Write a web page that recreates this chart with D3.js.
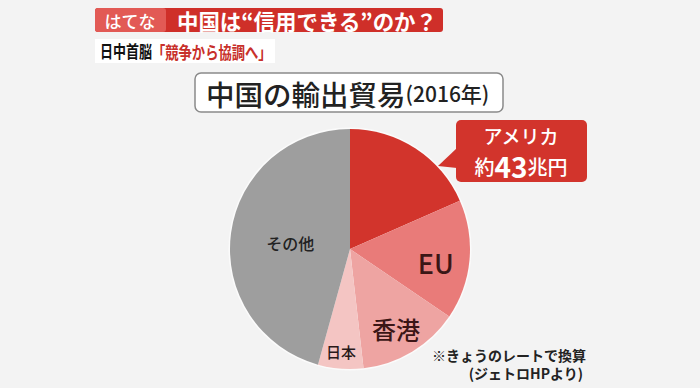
<!DOCTYPE html>
<html>
<head>
<meta charset="utf-8">
<script src="https://cdn.jsdelivr.net/npm/d3@7"></script>
<style>
  body { margin: 0; background: #f3f3f3; }
  svg { display: block; font-family: "Noto Sans CJK JP", "Noto Sans", sans-serif; }
</style>
</head>
<body>
<svg id="chart"></svg>
<script>
// 2016年 中国の輸出先シェア (%)
const regions = ["アメリカ", "EU", "香港", "日本", "その他"];
const shares = [18.4, 16.1, 13.7, 6.1, 45.7];
const sliceColors = ["#d2342c", "#e97b79", "#eea4a2", "#f4c5c3", "#9e9e9e"];
const usAmount = "43"; // 兆円

const width = 700, height = 388;
const svg = d3.select("#chart").attr("width", width).attr("height", height);

svg.append("rect").attr("width", width).attr("height", height).attr("fill", "#f3f3f3");

// Header bar
svg.append("rect").attr("x", 95).attr("y", 8).attr("width", 348).attr("height", 24)
    .attr("rx", 3).attr("fill", "#cf2f29");
svg.append("rect").attr("x", 95).attr("y", 8).attr("width", 71).attr("height", 24)
    .attr("rx", 3).attr("fill", "#e25a55");
svg.append("text").attr("x", 130).attr("y", 20).attr("text-anchor", "middle")
    .attr("dominant-baseline", "central").attr("fill", "#fff")
    .style("font-size", "17px").style("font-weight", "500").text("はてな");
svg.append("text").attr("x", 177).attr("y", 20)
    .attr("dominant-baseline", "central").attr("fill", "#fff")
    .attr("textLength", 260).attr("lengthAdjust", "spacingAndGlyphs")
    .style("font-size", "22px").style("font-weight", "700").text("中国は“信用できる”のか？");

// Sub header (condensed look: narrow font, stretched vertically)
svg.append("rect").attr("x", 95).attr("y", 39).attr("width", 180).attr("height", 24).attr("fill", "#fff");
const sub = svg.append("g").attr("transform", "translate(100,51) scale(1,1.3)");
sub.append("text").attr("x", 0).attr("y", 0).attr("dominant-baseline", "central")
    .attr("fill", "#111").style("font-size", "13px").style("font-weight", "700").text("日中首脳");
sub.append("text").attr("x", 52).attr("y", 0).attr("dominant-baseline", "central")
    .attr("fill", "#c8302a").style("font-size", "13.3px").style("font-weight", "700").text("「競争から協調へ」");

// Title box
svg.append("rect").attr("x", 195).attr("y", 73).attr("width", 308).attr("height", 39)
    .attr("rx", 6).attr("fill", "#fff").attr("stroke", "#8a8a8a").attr("stroke-width", 1.5);
const title = svg.append("text").attr("x", 206).attr("y", 93).attr("dominant-baseline", "central")
    .attr("fill", "#222");
title.append("tspan").style("font-size", "28.5px").style("font-weight", "500").text("中国の輸出貿易");
title.append("tspan").style("font-size", "21px").style("font-weight", "500").text("(2016年)");

// Pie
const cx = 350, cy = 249, radius = 120;
const pie = d3.pie().sort(null).value(d => d.value);
const arc = d3.arc().innerRadius(0).outerRadius(radius);
const data = pie(regions.map((r, i) => ({ region: r, value: shares[i] })));

const g = svg.append("g").attr("transform", `translate(${cx},${cy})`);

g.append("circle").attr("r", radius + 1.5).attr("fill", "#fbfbfb");

g.selectAll("path.slice").data(data).join("path")
    .attr("class", "slice")
    .attr("d", arc)
    .attr("fill", (d, i) => sliceColors[i]);

// Slice labels (America is labelled in callout)
const labelStyle = {
  "EU": { r: 87, size: 27, color: "#3b1616", da: 0.07 },
  "香港": { r: 92, size: 24, color: "#3b1616", da: 0.02 },
  "日本": { r: 103, size: 15, color: "#2a1a1a", da: 0.01 },
  "その他": { r: 60, size: 16, color: "#222", da: -0.03 }
};
data.filter(d => labelStyle[d.data.region]).forEach(d => {
  const s = labelStyle[d.data.region];
  const a = (d.startAngle + d.endAngle) / 2 + s.da;
  g.append("text")
      .attr("x", s.r * Math.sin(a))
      .attr("y", -s.r * Math.cos(a))
      .attr("text-anchor", "middle")
      .attr("dominant-baseline", "central")
      .attr("fill", s.color)
      .style("font-size", s.size + "px")
      .style("font-weight", "500")
      .text(d.data.region);
});

// Callout for America
const callout = svg.append("g");
callout.append("path")
    .attr("d", "M457,148 L438,166 L457,168 Z")
    .attr("fill", "#d2342c");
callout.append("rect").attr("x", 456).attr("y", 120).attr("width", 131).attr("height", 62)
    .attr("rx", 5).attr("fill", "#d2342c");
callout.append("text").attr("x", 521).attr("y", 135).attr("text-anchor", "middle")
    .attr("dominant-baseline", "central").attr("fill", "#fff")
    .style("font-size", "19px").style("font-weight", "500").text(regions[0]);
const amt = callout.append("text").attr("x", 521).attr("y", 166).attr("text-anchor", "middle")
    .attr("dominant-baseline", "central").attr("fill", "#fff").style("font-weight", "500");
amt.append("tspan").style("font-size", "20px").text("約");
amt.append("tspan").style("font-size", "28px").style("font-weight", "700").text(usAmount);
amt.append("tspan").style("font-size", "20px").text("兆円");

// Footnote
svg.append("text").attr("x", 586).attr("y", 355).attr("text-anchor", "end")
    .attr("dominant-baseline", "central").attr("fill", "#222")
    .style("font-size", "14px").style("font-weight", "700").text("※きょうのレートで換算");
svg.append("text").attr("x", 583).attr("y", 373).attr("text-anchor", "end")
    .attr("dominant-baseline", "central").attr("fill", "#222")
    .style("font-size", "14px").style("font-weight", "700").text("(ジェトロHPより)");
</script>
</body>
</html>
